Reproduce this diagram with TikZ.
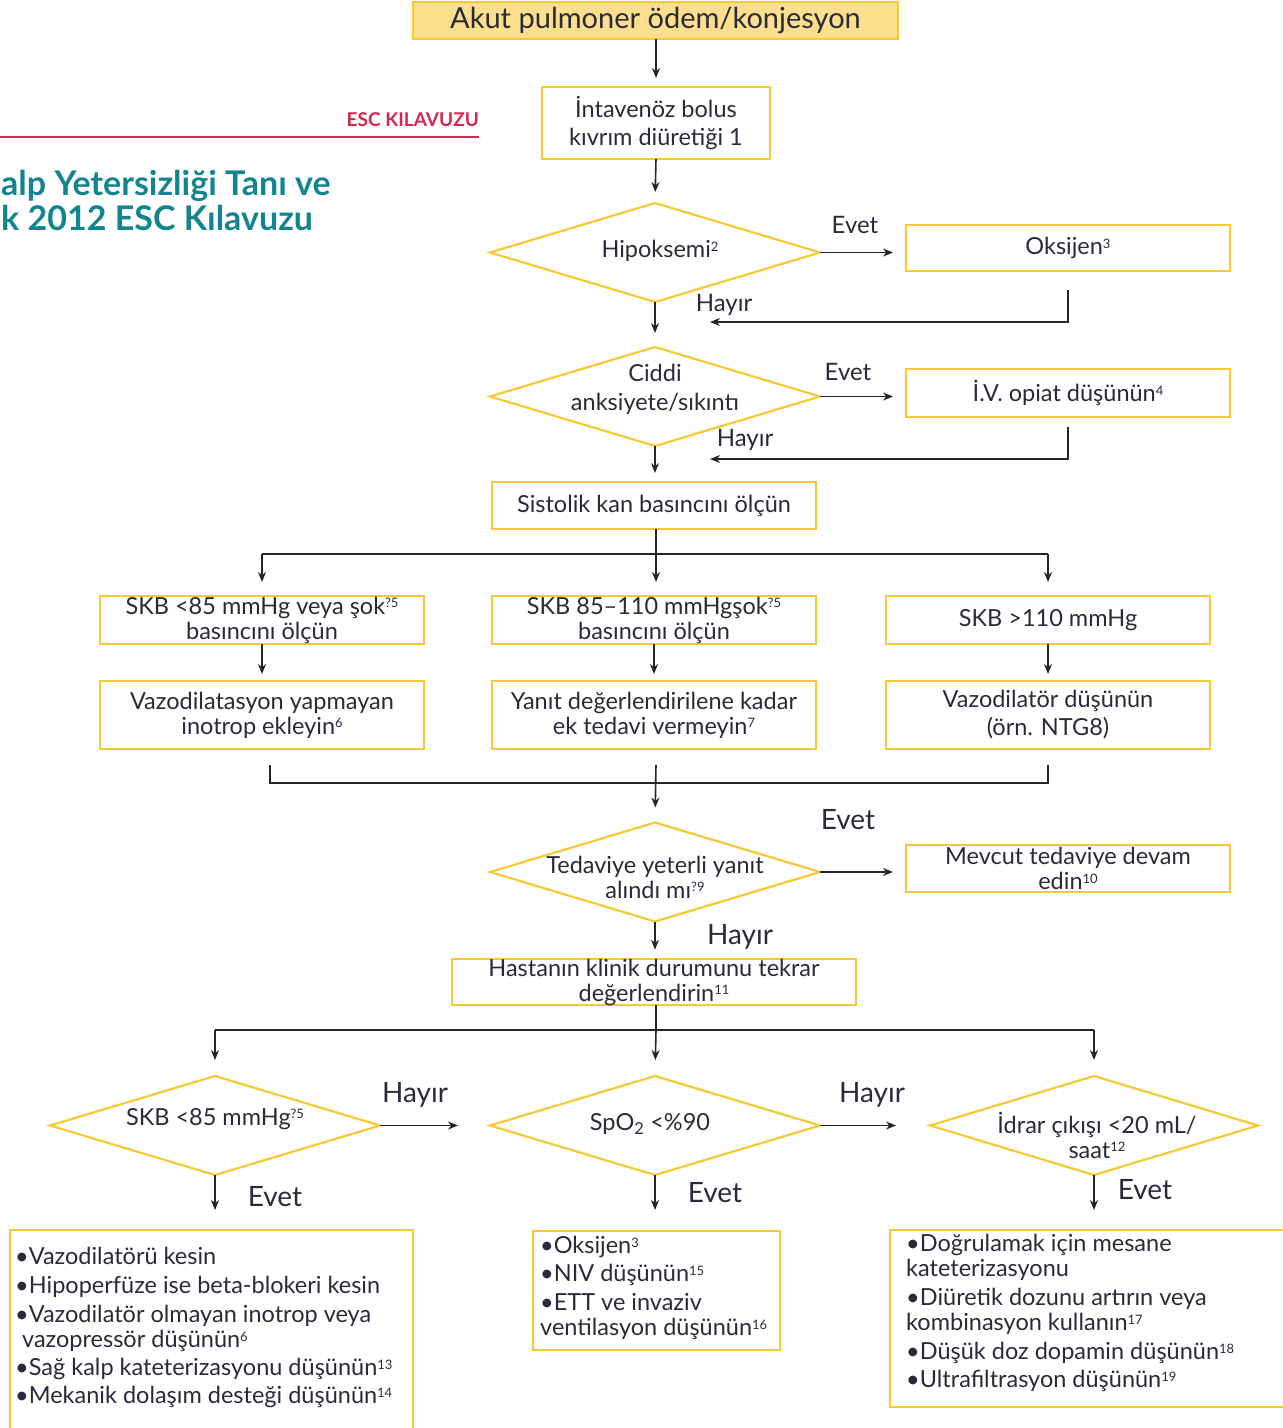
\documentclass[tikz,border=0pt]{standalone}
\usepackage{fontspec}
\setmainfont{Lato}
\usetikzlibrary{shapes.geometric,arrows.meta}
\definecolor{ybord}{HTML}{F7C935}
\definecolor{yfill}{HTML}{FCDF8C}
\definecolor{ink}{HTML}{2A2A3C}
\definecolor{tealc}{HTML}{13858F}
\definecolor{escred}{HTML}{D8264E}
\newcommand\fM{\fontsize{23.5}{25}\selectfont\lineskiplimit=-30pt\relax}
\newcommand\fT{\fontsize{29}{30}\selectfont}
\newcommand\fS{\fontsize{24}{25}\selectfont}
\newcommand\fL{\fontsize{28}{29}\selectfont}
\newcommand\fB{\fontsize{23.5}{25}\selectfont\lineskiplimit=-30pt\relax}
\newcommand\spx[1]{\raisebox{6.5pt}{\fontsize{13}{13}\selectfont #1}}
\tikzset{
  box/.style={draw=ybord, line width=2.2pt, inner sep=0pt, outer sep=0pt, text=ink, align=center, font=\fM},
  diam/.style={diamond, draw=ybord, line width=2.2pt, inner sep=0pt, outer sep=0pt, minimum width=330pt, minimum height=99pt},
  frame/.style={inner sep=0pt, outer sep=0pt},
  yb/.style={draw=ybord, line width=2.2pt},
  txt/.style={text=ink, align=center, font=\fM, inner sep=0pt},
  lst/.style={text=ink, align=left, font=\fB, inner sep=0pt, anchor=north west},
  lbl/.style={text=ink, font=\fS, inner sep=0pt},
  lblL/.style={text=ink, font=\fL, inner sep=0pt},
  arr/.style={draw=black!85, line width=1.6pt, -{Stealth[length=10pt,width=8pt]}},
  ln/.style={draw=black!85, line width=1.6pt}
}
\begin{document}
\begin{tikzpicture}[x=1pt,y=-1pt]
\useasboundingbox (0,0) rectangle (1283,1428);
% header
\node[anchor=east, inner sep=0pt, text=escred, font=\bfseries\fontsize{19}{19}\selectfont] (esc) at (479,120) {ESC KILAVUZU};
\coordinate (rl0) at (0,137);
\draw[escred, line width=1.5pt] (rl0) -- (rl0 -| esc.east);
\node[anchor=west, inner sep=0pt, text=tealc, align=left, font=\bfseries\fontsize{34}{35}\selectfont] (title) at (1,200) {alp Yetersizliği Tanı ve\\k 2012 ESC Kılavuzu};

% top chain
\node[box, fill=yfill, minimum width=485pt, minimum height=37pt, font=\fT] (n1) at (655.5,20.5) {Akut pulmoner ödem/konjesyon};
\node[box, minimum width=228pt, minimum height=72pt] (n2) at (656,123) {İntavenöz bolus\\[3pt]kıvrım diüretiği 1};
\draw[arr, shorten >=9pt] (n1.south -| n2.north) -- (n2.north);

\node[diam] (d1) at (655,252.5) {};
\node[txt] at (660,251) {Hipoksemi\spx{2}};
\draw[arr, shorten >=11pt] (n2.south) -- (d1.north);
\node[box, minimum width=324pt, minimum height=46pt] (oks) at (1068,248) {Oksijen\spx{3}};
\draw[arr, shorten >=13pt] (d1.east) -- (d1.east -| oks.west);
\node[lbl] at (855,225) {Evet};
\coordinate (h1) at (710,322);
\draw[arr] ([yshift=-19pt]oks.south) |- (h1);
\node[lbl] at (724,305) {Hayır};

\node[diam] (d2) at (655,396.5) {};
\node[txt] at (655,389) {Ciddi\\[4pt]anksiyete/sıkıntı};
\draw[arr, shorten >=14pt] (d1.south) -- (d2.north);
\node[box, minimum width=324pt, minimum height=48pt] (iv) at (1068,393) {İ.V. opiat düşünün\spx{4}};
\draw[arr, shorten >=13pt] (d2.east) -- (d2.east -| iv.west);
\node[lbl] at (848,372) {Evet};
\coordinate (h2) at (710,459);
\draw[arr] ([yshift=-10pt]iv.south) |- (h2);
\node[lbl] at (745,440) {Hayır};

\node[box, minimum width=324pt, minimum height=47pt] (sis) at (654,505.5) {Sistolik kan basıncını ölçün};
\draw[arr, shorten >=9pt] (d2.south) -- (d2.south |- sis.north);

% three branches
\coordinate (j1) at (656,554);
\draw[ln] (sis.south -| j1) -- (j1);
\node[box, minimum width=324pt, minimum height=48pt] (a1) at (262,620) {SKB <85 mmHg veya şok\spx{?5}\\basıncını ölçün};
\node[box, minimum width=324pt, minimum height=48pt] (a2) at (654,620) {SKB 85–110 mmHgşok\spx{?5}\\basıncını ölçün};
\node[box, minimum width=324pt, minimum height=48pt] (a3) at (1048,620) {SKB >110 mmHg};
\draw[ln] (j1 -| a1) -- (j1 -| a3);
\draw[arr, shorten >=14pt] (j1 -| a1) -- (a1.north);
\draw[arr, shorten >=14pt] (j1) -- (j1 |- a2.north);
\draw[arr, shorten >=14pt] (j1 -| a3) -- (a3.north);

\node[box, minimum width=324pt, minimum height=68pt] (b1) at (262,715) {Vazodilatasyon yapmayan\\inotrop ekleyin\spx{6}};
\node[box, minimum width=324pt, minimum height=68pt] (b2) at (654,715) {Yanıt değerlendirilene kadar\\ek tedavi vermeyin\spx{7}};
\node[box, minimum width=324pt, minimum height=68pt] (b3) at (1048,715) {Vazodilatör düşünün\\[3pt](örn. NTG8)};
\draw[arr, shorten >=7pt] (a1.south) -- (b1.north);
\draw[arr, shorten >=7pt] (a2.south) -- (b2.north);
\draw[arr, shorten >=7pt] (a3.south) -- (b3.north);

% merge bracket
\coordinate (c1) at (270,783);
\coordinate (c2) at (1048,783);
\coordinate (m1) at (656,765);
\draw[ln] ([yshift=18pt]c1) -- (c1) -- (c2) -- ([yshift=18pt]c2);

\node[diam] (d3) at (655,872) {};
\node[txt] at (655,877) {Tedaviye yeterli yanıt\\alındı mı\spx{?9}};
\draw[arr, shorten >=15pt] (m1) -- (d3.north);
\node[box, minimum width=324pt, minimum height=47pt] (mev) at (1068,868.5) {Mevcut tedaviye devam\\edin\spx{10}};
\draw[arr, shorten >=13pt] (d3.east) -- (d3.east -| mev.west);
\node[lblL] at (848,820) {Evet};

\node[box, minimum width=404pt, minimum height=46pt] (has) at (654,982) {Hastanın klinik durumunu tekrar\\değerlendirin\spx{11}};
\draw[arr, shorten >=9pt] (d3.south) -- (d3.south |- has.north);
\node[lblL] at (740,937) {Hayır};

% bottom decisions
\coordinate (j2) at (656,1030);
\draw[ln] (has.south -| j2) -- (j2);
\node[diam] (e1) at (215,1125.5) {};
\node[diam] (e2) at (655,1125.5) {};
\node[diam, minimum width=328pt] (e3) at (1094,1125.5) {};
\node[txt] at (215,1119) {SKB <85 mmHg\spx{?5}};
\node[txt] at (650,1124) {SpO\textsubscript{2} <\%90};
\node[txt] at (1097,1135) {İdrar çıkışı <20 mL/\\saat\spx{12}};
\draw[ln] (j2 -| e1) -- (j2 -| e3);
\draw[arr, shorten >=16pt] (j2 -| e1) -- (e1.north);
\draw[arr, shorten >=16pt] (j2) -- (e2.north);
\draw[arr, shorten >=16pt] (j2 -| e3) -- (e3.north);
\draw[arr, shorten >=32pt] (e1.east) -- (e2.west);
\draw[arr, shorten >=34pt] (e2.east) -- (e3.west);
\node[lblL] at (415,1095) {Hayır};
\node[lblL] at (872,1095) {Hayır};

% bottom boxes
\node[frame, minimum width=403pt, minimum height=198pt] (f1) at (211.5,1329) {};
\draw[yb] (f1.south west) |- (f1.north east) -- (f1.south east);
\node[box, minimum width=247pt, minimum height=119pt] (f2) at (656.5,1290.5) {};
\node[frame, minimum width=393pt, minimum height=177pt] (f3) at (1086.5,1318.5) {};
\draw[yb] (f3.north east) -| (f3.south west) -- (f3.south east);

\draw[arr, shorten >=20pt] (e1.south) -- (e1.south |- f1.north);
\draw[arr, shorten >=21pt] (e2.south) -- (e2.south |- f2.north);
\draw[arr, shorten >=20pt] (e3.south) -- (e3.south |- f3.north);
\node[lblL] at (275,1197) {Evet};
\node[lblL] at (715,1193) {Evet};
\node[lblL] at (1145,1190) {Evet};

\node[lst] at (15,1247) {•Vazodilatörü kesin\\[4pt]%
•Hipoperfüze ise beta-blokeri kesin\\[4pt]%
•Vazodilatör olmayan inotrop veya\\%
\hspace*{7pt}vazopressör düşünün\spx{6}\\[3pt]%
•Sağ kalp kateterizasyonu düşünün\spx{13}\\[3pt]%
•Mekanik dolaşım desteği düşünün\spx{14}};
\node[lst] at (540,1236) {•Oksijen\spx{3}\\[3pt]%
•NIV düşünün\spx{15}\\[4pt]%
•ETT ve invaziv\\%
ventilasyon düşünün\spx{16}};
\node[lst] at (906,1234) {•Doğrulamak için mesane\\%
kateterizasyonu\\[4pt]%
•Diüretik dozunu artırın veya\\%
kombinasyon kullanın\spx{17}\\[4pt]%
•Düşük doz dopamin düşünün\spx{18}\\[3pt]%
•Ultrafiltrasyon düşünün\spx{19}};
\end{tikzpicture}
\end{document}
